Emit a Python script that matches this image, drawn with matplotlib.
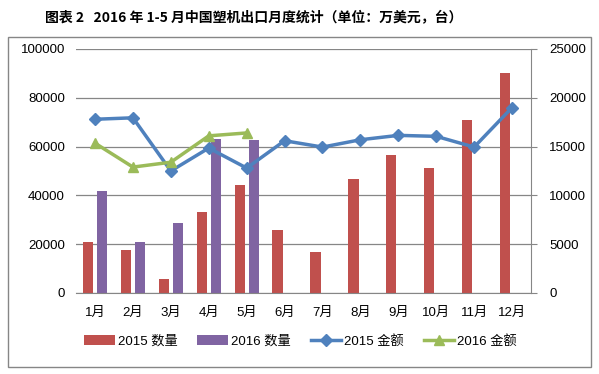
import numpy as np
import matplotlib.pyplot as plt
from matplotlib.patches import Rectangle

plt.rcParams['font.family'] = ['Liberation Sans', 'Noto Sans CJK SC']

months = ['1月', '2月', '3月', '4月', '5月', '6月', '7月', '8月', '9月', '10月', '11月', '12月']
qty_2015 = [21000, 17600, 5700, 33200, 44300, 25800, 16800, 46700, 56600, 51200, 70900, 90200]
qty_2016 = [41800, 21000, 28700, 63100, 62700]
amt_2015 = [17800, 17950, 12500, 14850, 12800, 15600, 14950, 15700, 16150, 16050, 14950, 19000]
amt_2016 = [15350, 12900, 13400, 16100, 16400]

c_red = '#C0504D'
c_purple = '#8064A2'
c_blue = '#4F81BD'
c_green = '#9BBB59'
c_grid = '#868686'

fig = plt.figure(figsize=(5.99, 3.74), dpi=100)
ax1 = fig.add_axes([0.127, 0.2166, 0.7595, 0.6524])
ax2 = ax1.twinx()

x = np.arange(len(months))
w = 0.27
ax1.bar(x[:len(qty_2015)] - 0.185, qty_2015, w, color=c_red, label='2015 数量', zorder=2)
ax1.bar(x[:len(qty_2016)] + 0.185, qty_2016, w, color=c_purple, label='2016 数量', zorder=2)

ax2.plot(x, amt_2015, color=c_blue, lw=2.5, marker='D', ms=6, label='2015 金额', zorder=3)
ax2.plot(x[:len(amt_2016)], amt_2016, color=c_green, lw=2.5, marker='^', ms=7.5, label='2016 金额', zorder=3)

ax1.set_xlim(-0.5, 11.5)
ax1.set_ylim(0, 100000)
ax2.set_ylim(0, 25000)
ax1.set_yticks(np.arange(0, 100001, 20000))
ax2.set_yticks(np.arange(0, 25001, 5000))
ax1.set_xticks(x)
ax1.set_xticklabels(months)
ax1.yaxis.grid(True, color=c_grid, lw=0.9, zorder=0)
ax1.set_axisbelow(True)

for s in ['top', 'left']:
    ax1.spines[s].set_visible(False)
    ax2.spines[s].set_visible(False)
ax1.spines['right'].set_visible(False)
ax2.spines['right'].set_color(c_grid)
ax1.spines['bottom'].set_color(c_grid)
ax2.spines['bottom'].set_visible(False)

ax1.tick_params(axis='y', length=0, labelsize=9.5, pad=8)
ax1.tick_params(axis='x', length=0, labelsize=9.5, pad=10)
ax2.tick_params(axis='y', length=4, color=c_grid, labelsize=9.5, pad=9)

h1, l1 = ax1.get_legend_handles_labels()
h2, l2 = ax2.get_legend_handles_labels()
fig.legend(h1 + h2, l1 + l2, loc='center', bbox_to_anchor=(0.502, 0.087), ncol=4,
           frameon=False, fontsize=9.5, handlelength=2.3, handleheight=0.75,
           columnspacing=1.5, handletextpad=0.25)

fig.text(45 / 599, 0.955, '图表 2   2016 年 1-5 月中国塑机出口月度统计（单位：万美元，台）',
         ha='left', va='center', fontsize=10, fontweight='bold',
         family=['Noto Sans CJK SC'])

fig.patches.append(Rectangle((8 / 599, 1 - 367 / 374), 583 / 599, 330 / 374,
                             transform=fig.transFigure, fill=False,
                             edgecolor=c_grid, lw=1))

fig.savefig('out.png', dpi=100)
